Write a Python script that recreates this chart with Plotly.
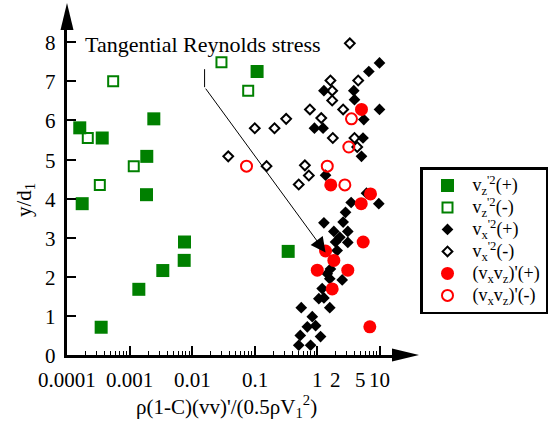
import math
import plotly.graph_objects as go

# ---------------- data ----------------
vz_pos_x = [1.6e-4, 3.66e-4, 2.45e-3, 1.89e-3, 1.87e-3, 1.75e-4, 7.59e-3, 7.5e-3,
            3.41e-3, 1.41e-3, 3.52e-4, 0.110, 0.346]
vz_pos_y = [5.81, 5.55, 6.04, 5.08, 4.10, 3.87, 2.89, 2.42, 2.16, 1.68, 0.71, 7.25, 2.65]

vz_neg_x = [5.48e-4, 2.15e-4, 1.17e-3, 3.35e-4, 0.0296, 0.0793]
vz_neg_y = [7.00, 5.55, 4.83, 4.35, 7.49, 6.76]

vx_pos_x = [10.0, 6.75, 1.29, 3.88, 3.98, 10.0, 5.61, 0.91, 1.25, 5.45, 5.15, 1.37,
            6.19, 9.75, 3.52, 2.86, 2.62, 1.29, 1.86, 3.11, 2.32, 3.11, 1.98, 2.10,
            1.64, 1.46, 2.53, 1.60, 1.21, 1.07, 1.29, 1.60, 0.56, 0.84, 0.95, 0.70,
            1.14, 0.54, 0.79, 0.51]
vx_pos_y = [7.47, 7.25, 6.76, 6.76, 6.53, 6.28, 6.02, 5.80, 5.80, 5.55, 5.08, 4.60,
            4.14, 3.87, 3.90, 3.65, 3.40, 3.38, 3.16, 3.16, 3.01, 2.88, 2.89, 2.67,
            2.20, 2.08, 1.92, 1.95, 1.70, 1.44, 1.46, 1.21, 1.21, 0.98, 0.75, 0.72,
            0.47, 0.50, 0.25, 0.25]

vx_neg_x = [3.35, 0.038, 0.101, 0.209, 0.321, 0.156, 0.64, 0.74, 0.51, 0.77, 1.17,
            1.64, 1.75, 1.75, 1.79, 2.62, 4.56, 3.98, 4.40]
vx_neg_y = [7.97, 5.08, 5.80, 5.80, 6.04, 4.83, 4.85, 4.59, 4.36, 6.28, 6.06,
            7.02, 6.76, 6.51, 5.55, 6.28, 7.02, 5.55, 5.32]

vxvz_pos_x = [5.15, 1.66, 7.18, 5.10, 5.48, 1.37, 1.86, 1.01, 3.11, 1.75, 7.00]
vxvz_pos_y = [6.28, 4.35, 4.12, 3.87, 2.89, 2.66, 2.42, 2.17, 2.17, 1.69, 0.72]

vxvz_neg_x = [0.0745, 1.46, 2.79, 3.56, 3.23]
vxvz_neg_y = [4.83, 4.83, 4.35, 6.04, 5.32]

x_tick_vals = [1e-4, 1e-3, 1e-2, 1e-1, 1, 10]
x_label_vals = [1e-4, 1e-3, 1e-2, 1e-1, 1, 2, 5, 10]
x_label_text = ["0.0001", "0.001", "0.01", "0.1", "1", "2", "5", "10"]
y_tick_vals = [0, 1, 2, 3, 4, 5, 6, 7, 8]

series_names = [
    "v<sub>z</sub><sup>'2</sup>(+)",
    "v<sub>z</sub><sup>'2</sup>(-)",
    "v<sub>x</sub><sup>'2</sup>(+)",
    "v<sub>x</sub><sup>'2</sup>(-)",
    "(v<sub>x</sub>v<sub>z</sub>)'(+)",
    "(v<sub>x</sub>v<sub>z</sub>)'(-)",
]

# callout: "Tangential Reynolds stress" with leader line and arrow
callout_text = "Tangential Reynolds stress"
callout_text_pos = (0.0152, 7.93)
leader_x = [0.0159, 0.0159]
leader_y = [7.31, 6.85]
arrow_tip = (1.37, 2.62)

# ---------------- figure ----------------
FONT = "Liberation Serif, Times New Roman, serif"
GREEN = "#008000"
RED = "#ff0000"


def leg(name):
    return '<span style="font-size:18px">' + name + "</span>"


fig = go.Figure()

fig.add_trace(go.Scatter(
    x=leader_x, y=leader_y, mode="lines", line=dict(color="black", width=1),
    showlegend=False, hoverinfo="skip"))

fig.add_trace(go.Scatter(
    x=vz_pos_x, y=vz_pos_y, mode="markers", name=leg(series_names[0]),
    marker=dict(symbol="square", size=13, color=GREEN)))
fig.add_trace(go.Scatter(
    x=vz_neg_x, y=vz_neg_y, mode="markers", name=leg(series_names[1]),
    marker=dict(symbol="square-open", size=10, color=GREEN, line=dict(width=2, color=GREEN))))
fig.add_trace(go.Scatter(
    x=vx_pos_x, y=vx_pos_y, mode="markers", name=leg(series_names[2]),
    marker=dict(symbol="diamond", size=9, color="black")))
fig.add_trace(go.Scatter(
    x=vx_neg_x, y=vx_neg_y, mode="markers", name=leg(series_names[3]),
    marker=dict(symbol="diamond-open", size=7.5, color="black", line=dict(width=2, color="black"))))
fig.add_trace(go.Scatter(
    x=vxvz_pos_x, y=vxvz_pos_y, mode="markers", name=leg(series_names[4]),
    marker=dict(symbol="circle", size=13, color=RED)))
fig.add_trace(go.Scatter(
    x=vxvz_neg_x, y=vxvz_neg_y, mode="markers", name=leg(series_names[5]),
    marker=dict(symbol="circle-open", size=11, color=RED, line=dict(width=2, color=RED))))

L, R, T, B = 67, 156, 30, 66
W = 548 - L - R
H = 421 - T - B

annotations = [
    dict(x=math.log10(callout_text_pos[0]), y=callout_text_pos[1], xref="x", yref="y",
         xanchor="center", yanchor="middle",
         text=callout_text, showarrow=False, font=dict(family=FONT, size=22, color="black")),
    dict(x=math.log10(arrow_tip[0]), y=arrow_tip[1], xref="x", yref="y",
         ax=math.log10(leader_x[-1]), ay=leader_y[-1], axref="x", ayref="y",
         text="", showarrow=True, arrowhead=2, arrowsize=3, arrowwidth=1,
         arrowcolor="black", standoff=0, startstandoff=0),
    dict(x=(226 - L) / W, y=-(406 - (T + H)) / H, xref="paper", yref="paper",
         xanchor="center", yanchor="middle",
         text="ρ(1-C)(vv)'/(0.5ρV<sub>1</sub><sup>2</sup>)", showarrow=False,
         font=dict(family=FONT, size=21, color="black")),
    dict(x=-(L - 25) / W, y=(T + H - 200) / H, xref="paper", yref="paper",
         xanchor="center", yanchor="middle",
         text="y/d<sub>1</sub>", textangle=-90, showarrow=False,
         font=dict(family=FONT, size=21, color="black")),
]
for v, t in zip(x_label_vals, x_label_text):
    annotations.append(dict(x=math.log10(v), y=0, xref="x", yref="paper",
                            xanchor="center", yanchor="middle", yshift=-25, text=t,
                            showarrow=False, font=dict(family=FONT, size=21, color="black")))
for v in y_tick_vals:
    annotations.append(dict(x=0, y=v, xref="paper", yref="y", xanchor="center",
                            yanchor="middle", xshift=-17, yshift=-1, text=str(v),
                            showarrow=False, font=dict(family=FONT, size=21, color="black")))

# axis arrowheads (paper coordinates)
ax_len = 27 / W
ax_half = 6.5 / H
ay_len = 27 / H
ay_half = 6.5 / W
shapes = [
    dict(type="path", xref="paper", yref="paper",
         path=f"M 1 {ax_half} L {1 + ax_len} 0 L 1 {-ax_half} Z",
         fillcolor="black", line=dict(width=0)),
    dict(type="path", xref="paper", yref="paper",
         path=f"M {-ay_half} 1 L 0 {1 + ay_len} L {ay_half} 1 Z",
         fillcolor="black", line=dict(width=0)),
]

fig.update_layout(
    width=548, height=421,
    margin=dict(l=L, r=R, t=T, b=B, autoexpand=False),
    paper_bgcolor="white", plot_bgcolor="white",
    font=dict(family=FONT, size=20, color="black"),
    annotations=annotations, shapes=shapes,
    legend=dict(x=(420 - L) / W, y=(T + H - 167) / H, xanchor="left", yanchor="top",
                bordercolor="black", borderwidth=2.5, bgcolor="white",
                font=dict(family=FONT, size=14.6, color="black"),
                itemwidth=40, tracegroupgap=0),
)
fig.update_xaxes(
    type="log", range=[-4, 1.2], showgrid=False, zeroline=False,
    showline=True, linecolor="black", linewidth=2.5,
    tickvals=x_tick_vals, showticklabels=False,
    ticks="inside", ticklen=9, tickwidth=1.5, tickcolor="black",
    minor=dict(ticks="inside", ticklen=4, tickwidth=1, tickcolor="black", dtick="D1"),
)
fig.update_yaxes(
    range=[0, H / 39.1], showgrid=False, zeroline=False,
    showline=True, linecolor="black", linewidth=2.5,
    tickvals=y_tick_vals, showticklabels=False,
    ticks="inside", ticklen=9, tickwidth=1.5, tickcolor="black",
)

fig.write_html("out.html", config={"displayModeBar": False},
               post_script="document.body.style.margin='0px';document.body.style.overflow='hidden';")
